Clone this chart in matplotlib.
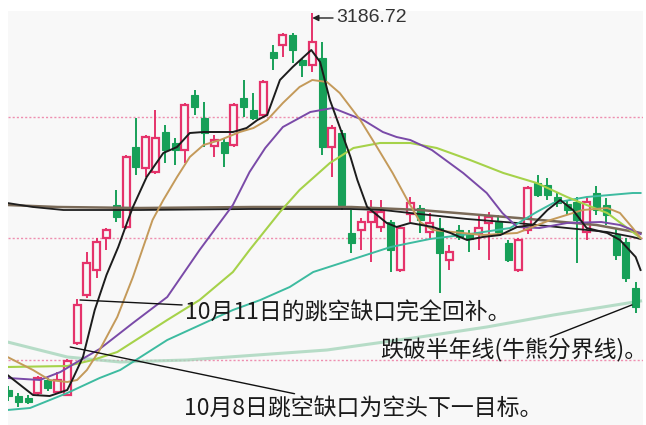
import matplotlib
matplotlib.use("Agg")
import matplotlib.pyplot as plt
from matplotlib.patches import Rectangle

# ---------------- data (index, price) ----------------
opens = [2810, 2804, 2802, 2807, 2820, 2808, 2805, 2857, 2905, 2930,
         2962, 2995, 2973, 3053, 3032, 3028, 3068, 3057, 3050, 3105,
         3082, 3054, 3058, 3055, 3102, 3090, 3085, 3148, 3155, 3165,
         3140, 3135, 3142, 3053, 3067, 2967, 2970, 2978, 2973, 2978,
         2930, 2986, 2992, 2968, 2972, 2940, 2970, 2966, 2966, 2977,
         2978, 2957, 2930, 2970, 3017, 3015, 3003, 2996, 2998, 2968,
         3007, 2995, 2965, 2958, 2912]
closes = [2804, 2798, 2798, 2822, 2812, 2820, 2839, 2895, 2937, 2958,
          2970, 2983, 3043, 3033, 3063, 3062, 3050, 3050, 3095, 3093,
          3067, 3060, 3047, 3095, 3093, 3082, 3118, 3142, 3165, 3150,
          3135, 3158, 3053, 3072, 2995, 2957, 2978, 2988, 2988, 2950,
          2972, 2997, 2980, 2977, 2947, 2948, 2963, 2961, 2972, 2983,
          2968, 2940, 2960, 3012, 3005, 3005, 2997, 2990, 2980, 2998,
          2990, 2985, 2945, 2922, 2893]
highs = [2814, 2807, 2805, 2824, 2822, 2828, 2841, 2901, 2948, 2962,
         2972, 3010, 3045, 3082, 3065, 3090, 3075, 3062, 3097, 3110,
         3098, 3065, 3062, 3097, 3120, 3107, 3120, 3155, 3167, 3167,
         3142, 3186.72, 3158, 3075, 3070, 2990, 2982, 3000, 3000, 2980,
         2974, 3003, 2995, 2987, 2982, 2955, 2975, 2970, 2985, 2988,
         2985, 2960, 2962, 3014, 3025, 3022, 3007, 3000, 3003, 3003,
         3014, 3002, 2972, 2962, 2918]
lows = [2799, 2793, 2796, 2805, 2809, 2806, 2804, 2855, 2902, 2922,
        2950, 2978, 2971, 3025, 3023, 3026, 3037, 3035, 3037, 3085,
        3053, 3043, 3033, 3053, 3083, 3080, 3083, 3130, 3143, 3137,
        3123, 3128, 3045, 3023, 2990, 2947, 2950, 2938, 2968, 2928,
        2928, 2978, 2967, 2962, 2907, 2930, 2960, 2948, 2950, 2940,
        2965, 2938, 2928, 2966, 3003, 3000, 2993, 2985, 2937, 2960,
        2985, 2975, 2940, 2918, 2887]

ma5_x = [-0.1, 2.5, 4.2, 6.0, 6.6, 7.6, 8.8, 10.0, 11.2, 12.2, 12.7, 14.1, 15.8,
         17.2, 18.5, 19.9, 22.9, 24.3, 25.4, 26.4, 27.7, 29.0, 30.9, 31.8, 32.8,
         33.8, 34.9, 35.6, 36.6, 37.6, 38.6, 39.6, 41.0, 43.3, 45.1, 46.8, 48.4,
         50.2, 51.9, 53.5, 55.0, 56.3, 57.6, 59.0, 61.1, 62.4, 64.0, 64.5]
ma5_y = [2825, 2805, 2804, 2810, 2822, 2843, 2890, 2925, 2953, 2980, 2993, 3023, 3047,
         3053, 3067, 3068, 3068, 3072, 3080, 3085, 3120, 3133, 3150, 3138, 3100,
         3073, 3043, 3020, 2993, 2985, 2977, 2973, 2977, 2973, 2967, 2960, 2963,
         2965, 2973, 2975, 2990, 3000, 2990, 2972, 2967, 2960, 2943, 2930]

ma10_x = [-0.1, 2.5, 4.2, 6.0, 7.0, 8.0, 9.3, 11.1, 12.7, 14.7, 15.8, 17.2, 18.5,
          19.9, 21.6, 23.6, 25.0, 26.4, 28.0, 29.7, 31.0, 32.5, 33.8, 35.9, 37.6,
          39.2, 40.7, 42.0, 43.3, 48.4, 51.9, 55.3, 58.6, 61.1, 62.4, 63.7, 64.5]
ma10_y = [2843, 2830, 2820, 2818, 2820, 2830, 2850, 2883, 2923, 2980, 3000, 3023, 3043,
          3055, 3060, 3068, 3072, 3080, 3097, 3113, 3120, 3118, 3107, 3080, 3053,
          3027, 3000, 2978, 2970, 2965, 2967, 2980, 2990, 2992, 2987, 2972, 2962]

ma20_x = [-0.1, 3.2, 5.3, 7.0, 9.3, 12.7, 16.2, 19.5, 22.9, 24.6, 26.2, 28.0, 30.8,
          33.1, 34.9, 36.2, 38.2, 39.6, 41.0, 43.2, 46.4, 48.8, 50.4, 51.9, 54.2,
          57.0, 60.5, 62.4, 63.7, 64.5]
ma20_y = [2822, 2820, 2828, 2838, 2851, 2877, 2903, 2950, 2995, 3028, 3052, 3073, 3088,
          3092, 3085, 3080, 3068, 3063, 3060, 3050, 3027, 3007, 2987, 2973, 2972,
          2977, 2978, 2975, 2970, 2966]

ma60_x = [-0.1, 6.0, 8.6, 11.1, 16.2, 19.5, 22.9, 24.6, 27.7, 29.7, 32.8, 35.2, 37.9,
          41.0, 43.7, 47.1, 50.5, 53.9, 57.0, 59.0, 61.1, 63.7, 64.5]
ma60_y = [2833, 2834, 2840, 2848, 2880, 2900, 2928, 2950, 2988, 3010, 3037, 3052, 3057,
          3057, 3052, 3040, 3027, 3017, 3003, 2995, 2987, 2968, 2962]

ma90_x = [-0.1, 2.2, 6.0, 9.3, 11.4, 16.2, 22.9, 25.7, 28.7, 31.1, 34.9, 39.0, 43.0,
          47.1, 51.2, 53.9, 55.6, 59.0, 63.7, 64.5]
ma90_y = [2790, 2792, 2807, 2822, 2830, 2860, 2890, 2900, 2913, 2928, 2940, 2953, 2961,
          2966, 2972, 2988, 2997, 3003, 3007, 3007]

half_x = [-0.1, 6.0, 11.4, 18.2, 32.5, 42.0, 48.8, 55.6, 64.5]
half_y = [2858, 2843, 2838, 2840, 2850, 2863, 2873, 2885, 2899]

long1_x = [-0.1, 2.5, 5.6, 13.4, 24.6, 34.9, 38.2, 41.0, 46.8, 51.9, 57.0, 61.1, 63.7, 64.5]
long1_y = [2997, 2993, 2990, 2990, 2991, 2991, 2990, 2987, 2981, 2977, 2972, 2968, 2963, 2961]
long2_x = [-0.1, 5.0, 13.4, 25.0, 35.0, 42.0, 52.0, 60.0, 64.5]
long2_y = [2995, 2993, 2992, 2993, 2993, 2990, 2982, 2975, 2967]

grid_levels = [3083, 2962, 2840]
peak_label = "3186.72"
notes = ["10月11日的跳空缺口完全回补。", "10月8日跳空缺口为空头下一目标。",
         "跌破半年线(牛熊分界线)。"]

# ---------------- figure ----------------
BG = "#f8f8f8"
RED = "#e5336b"
GREEN = "#17a058"

fig = plt.figure(figsize=(6.46, 4.25), dpi=100)
ax = fig.add_axes([8 / 646, 0, (643 - 8) / 646, (425 - 11) / 425])
ax.set_facecolor(BG)
for s in ax.spines.values():
    s.set_visible(False)
ax.set_xticks([])
ax.set_yticks([])
ax.set_xlim(-0.05, 64.75)
ax.set_ylim(2775, 3189)

for lv in grid_levels:
    ax.axhline(lv, color="#ee8fb0", lw=1.0, ls=(0, (1.5, 1.5)), zorder=1)

w = 0.72
for i, (o, h, l, c) in enumerate(zip(opens, highs, lows, closes)):
    up = c >= o
    col = RED if up else GREEN
    lo_b, hi_b = min(o, c), max(o, c)
    ax.plot([i, i], [l, lo_b], color=col, lw=1.4, zorder=3, solid_capstyle="butt")
    ax.plot([i, i], [hi_b, h], color=col, lw=1.4, zorder=3, solid_capstyle="butt")
    if up:
        ax.add_patch(Rectangle((i - w / 2, lo_b), w, hi_b - lo_b, facecolor=BG,
                               edgecolor=col, lw=1.6, zorder=3))
    else:
        ax.add_patch(Rectangle((i - w / 2, lo_b), w, max(hi_b - lo_b, 1.2),
                               facecolor=col, edgecolor=col, lw=0.8, zorder=3))

ax.plot(half_x, half_y, color="#a6d6bb", lw=2.2, alpha=0.8, zorder=2)
ax.plot(long2_x, long2_y, color="#7a6a58", lw=1.8, zorder=4)
ax.plot(long1_x, long1_y, color="#1e1e1e", lw=1.3, zorder=4)
ax.plot(ma90_x, ma90_y, color="#3dbba0", lw=1.4, zorder=4)
ax.plot(ma60_x, ma60_y, color="#a6d24a", lw=1.5, zorder=4)
ax.plot(ma20_x, ma20_y, color="#7a4aa8", lw=1.4, zorder=4)
ax.plot(ma10_x, ma10_y, color="#c49a5a", lw=1.4, zorder=4)
ax.plot(ma5_x, ma5_y, color="#1c1c1c", lw=1.4, zorder=5)

# peak label
ax.annotate(peak_label, xy=(31.0, 3182), xytext=(33.4, 3182),
            fontsize=14, family="Liberation Sans", color="#333333",
            va="center", ha="left",
            arrowprops=dict(arrowstyle="-|>", color="#222222", lw=1.0,
                            mutation_scale=9, shrinkA=0, shrinkB=0),
            zorder=6, annotation_clip=False)

cjk = ["Noto Sans CJK SC", "DejaVu Sans"]
fs = 16.5
ax.annotate(notes[0], xy=(7.3, 2900), xytext=(18.0, 2887), fontsize=fs,
            family=cjk, color="#1a1a1a", va="center", ha="left",
            arrowprops=dict(arrowstyle="-", color="#111111", lw=1.0,
                            shrinkA=0, shrinkB=0), zorder=7)
ax.annotate(notes[1], xy=(6.3, 2853), xytext=(17.9, 2792), fontsize=fs,
            family=cjk, color="#1a1a1a", va="center", ha="left",
            arrowprops=dict(arrowstyle="-", color="#111111", lw=1.0,
                            shrinkA=0, shrinkB=0), zorder=7)
ax.text(37.9, 2850, notes[2], fontsize=fs, family=cjk, color="#1a1a1a",
        va="center", ha="left", zorder=7)
ax.plot([55.3, 63.6], [2863, 2895], color="#111111", lw=1.0, zorder=7)

fig.savefig("out.png", dpi=100, facecolor="white")
